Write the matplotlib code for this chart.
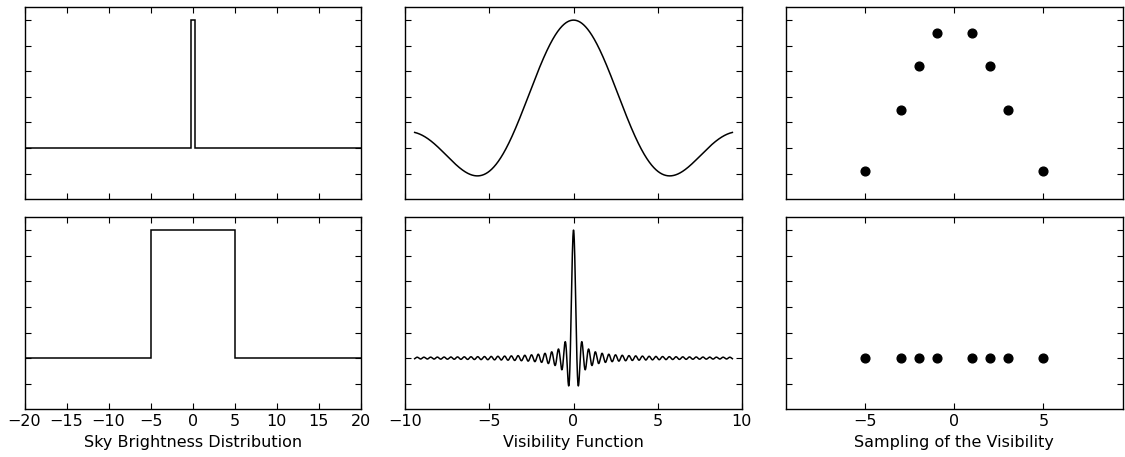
import numpy as np
import matplotlib
matplotlib.use("Agg")
import matplotlib.pyplot as plt

# --- données ---
sky_edges_narrow = [-20, -0.25, 0.25, 20]
sky_edges_wide = [-20, -5, 5, 20]
sky_levels = [0, 1, 0]
box_widths = [0.5, 10.0]          # largeur de chaque source (haut, bas)
k_range = (-9.45, 9.45)           # domaine de la fonction de visibilité

sample_k = [-5, -3, -2, -1, 1, 2, 3, 5]
sample_vis_narrow = [-0.18, 0.30, 0.64, 0.90, 0.90, 0.64, 0.30, -0.18]
sample_vis_wide = [0, 0, 0, 0, 0, 0, 0, 0]

xlabels = ["Sky Brightness Distribution", "Visibility Function",
           "Sampling of the Visibility"]

plt.rcParams['font.family'] = ['DejaVu Sans']
plt.rcParams['font.size'] = 11.5

fig, axes = plt.subplots(2, 3, figsize=(11.25, 4.57), dpi=100)
fig.subplots_adjust(left=0.0218, right=0.9978, bottom=0.1044, top=0.984,
                    wspace=0.133, hspace=0.094)

# transformée de Fourier d'une boîte de largeur w
k = np.linspace(k_range[0], k_range[1], 4000)

for row, (edges, w, svis) in enumerate([(sky_edges_narrow, box_widths[0], sample_vis_narrow),
                                          (sky_edges_wide, box_widths[1], sample_vis_wide)]):
    ax = axes[row, 0]
    ax.stairs(sky_levels, edges, baseline=None, color='k', lw=1.1)
    ax.set_xlim(-20, 20)
    ax.set_xticks(np.arange(-20, 21, 5))

    ax = axes[row, 1]
    ax.plot(k, np.sinc(w * k / 2), '-k', lw=1.1)
    ax.set_xlim(-10, 10)
    ax.set_xticks([-10, -5, 0, 5, 10])

    ax = axes[row, 2]
    ax.plot(sample_k, svis, 'ok', ms=6.3)
    ax.set_xlim(k_range)
    ax.set_xticks([-5, 0, 5])

for ax in axes.flat:
    ax.set_ylim(-0.4, 1.1)
    ax.set_yticks(np.arange(-0.2, 1.01, 0.2))
    ax.yaxis.set_major_formatter(plt.NullFormatter())
    ax.tick_params(direction='in', top=True, right=True, length=4.5, width=0.8)
    for s in ax.spines.values():
        s.set_linewidth(1.0)

for j in range(3):
    axes[0, j].xaxis.set_major_formatter(plt.NullFormatter())
    axes[1, j].set_xlabel(xlabels[j])

fig.savefig("out.png", dpi=100)
